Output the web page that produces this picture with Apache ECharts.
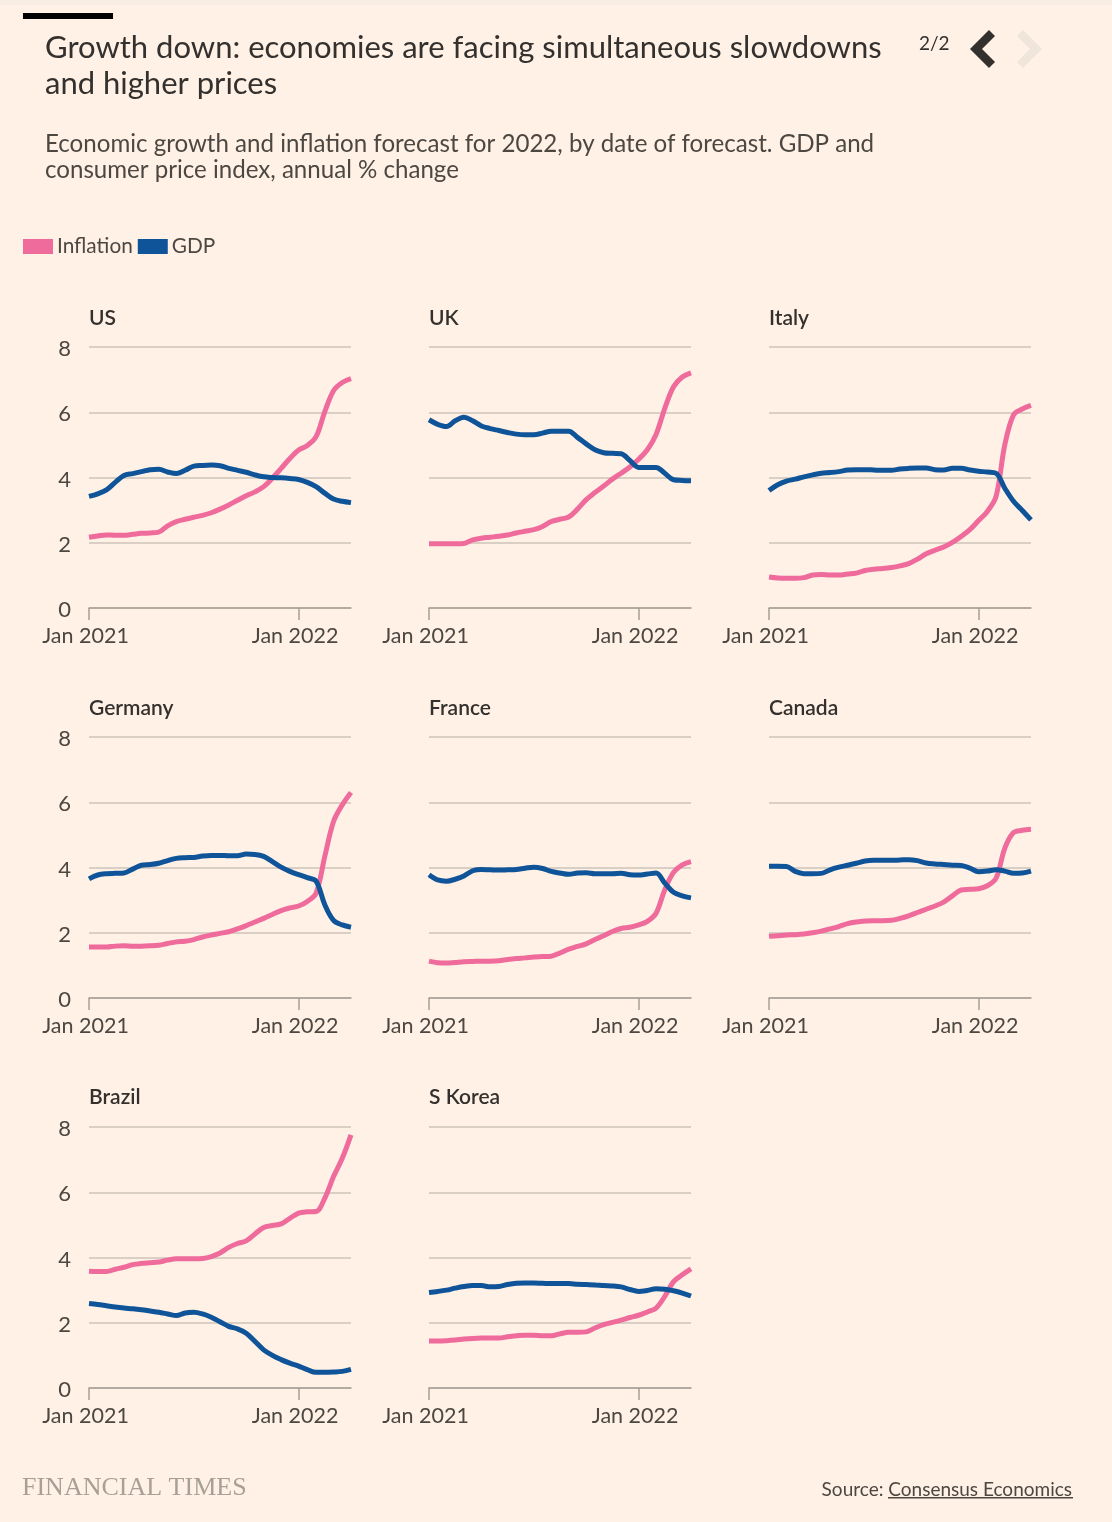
<!DOCTYPE html>
<html lang="en">

<head>
  <meta charset="UTF-8" />
  <title>Growth down</title>
  <script src="https://cdn.jsdelivr.net/npm/echarts@6/dist/echarts.min.js"></script>
  <style>
    html, body { margin: 0; padding: 0; background: #fff1e5; }
  </style>
</head>

<body>
  <div id="main" style="width:1112px;height:1522px;"></div>
  <script type="text/javascript">
    // half-month steps from Jan 2021 to Apr 2022
    const categories = [
      'Jan 2021', 'mid Jan 21', 'Feb 21', 'mid Feb 21', 'Mar 21', 'mid Mar 21', 'Apr 21', 'mid Apr 21',
      'May 21', 'mid May 21', 'Jun 21', 'mid Jun 21', 'Jul 21', 'mid Jul 21', 'Aug 21', 'mid Aug 21',
      'Sep 21', 'mid Sep 21', 'Oct 21', 'mid Oct 21', 'Nov 21', 'mid Nov 21', 'Dec 21', 'mid Dec 21',
      'Jan 2022', 'mid Jan 22', 'Feb 22', 'mid Feb 22', 'Mar 22', 'mid Mar 22', 'Apr 22'
    ]
    const xTickLabels = ['Jan 2021', 'Jan 2022']
    const yTicks = [0, 2, 4, 6, 8]
    const countries = ['US', 'UK', 'Italy', 'Germany', 'France', 'Canada', 'Brazil', 'S Korea']

    const usInflation = [2.17, 2.21, 2.24, 2.23, 2.23, 2.26, 2.29, 2.30, 2.33, 2.52, 2.65, 2.72, 2.78, 2.84, 2.92, 3.03, 3.16, 3.30, 3.44, 3.56, 3.72, 3.98, 4.28, 4.58, 4.84, 4.98, 5.25, 6.02, 6.66, 6.91, 7.03]
    const usGdp = [3.42, 3.50, 3.62, 3.85, 4.06, 4.12, 4.18, 4.24, 4.25, 4.17, 4.12, 4.22, 4.35, 4.37, 4.38, 4.36, 4.28, 4.22, 4.16, 4.08, 4.02, 4.00, 3.99, 3.97, 3.94, 3.85, 3.72, 3.52, 3.34, 3.27, 3.23]
    const ukInflation = [1.97, 1.97, 1.97, 1.97, 1.98, 2.09, 2.14, 2.17, 2.20, 2.24, 2.30, 2.35, 2.40, 2.50, 2.65, 2.72, 2.79, 3.03, 3.32, 3.54, 3.74, 3.95, 4.13, 4.32, 4.56, 4.85, 5.32, 6.12, 6.78, 7.08, 7.21]
    const ukGdp = [5.77, 5.63, 5.56, 5.74, 5.85, 5.74, 5.58, 5.50, 5.44, 5.38, 5.33, 5.31, 5.31, 5.36, 5.42, 5.42, 5.42, 5.23, 5.03, 4.85, 4.76, 4.74, 4.73, 4.52, 4.31, 4.31, 4.31, 4.13, 3.93, 3.91, 3.90]
    const italyInflation = [0.95, 0.92, 0.91, 0.91, 0.93, 1.01, 1.03, 1.01, 1.01, 1.04, 1.07, 1.15, 1.19, 1.21, 1.24, 1.29, 1.36, 1.50, 1.66, 1.77, 1.87, 2.01, 2.19, 2.40, 2.68, 2.96, 3.42, 5.00, 5.92, 6.10, 6.21]
    const italyGdp = [3.60, 3.78, 3.89, 3.95, 4.02, 4.08, 4.13, 4.15, 4.18, 4.23, 4.24, 4.24, 4.23, 4.22, 4.22, 4.26, 4.28, 4.29, 4.29, 4.24, 4.23, 4.28, 4.28, 4.23, 4.19, 4.17, 4.13, 3.67, 3.27, 2.99, 2.70]
    const germanyInflation = [1.56, 1.56, 1.56, 1.59, 1.60, 1.59, 1.59, 1.60, 1.62, 1.67, 1.72, 1.74, 1.79, 1.87, 1.93, 1.98, 2.03, 2.12, 2.22, 2.33, 2.44, 2.56, 2.68, 2.76, 2.82, 2.96, 3.21, 4.34, 5.41, 5.92, 6.30]
    const germanyGdp = [3.65, 3.77, 3.81, 3.82, 3.83, 3.95, 4.07, 4.09, 4.13, 4.21, 4.28, 4.30, 4.31, 4.35, 4.37, 4.37, 4.36, 4.36, 4.41, 4.40, 4.34, 4.18, 4.01, 3.88, 3.78, 3.69, 3.58, 2.86, 2.38, 2.24, 2.17]
    const franceInflation = [1.13, 1.08, 1.07, 1.09, 1.11, 1.12, 1.13, 1.13, 1.14, 1.18, 1.21, 1.23, 1.26, 1.27, 1.28, 1.38, 1.50, 1.58, 1.66, 1.79, 1.91, 2.04, 2.13, 2.17, 2.24, 2.35, 2.60, 3.32, 3.85, 4.08, 4.18]
    const franceGdp = [3.78, 3.62, 3.58, 3.64, 3.74, 3.90, 3.94, 3.93, 3.92, 3.93, 3.94, 3.98, 4.01, 3.97, 3.88, 3.83, 3.79, 3.83, 3.84, 3.81, 3.81, 3.81, 3.82, 3.78, 3.77, 3.80, 3.83, 3.52, 3.24, 3.13, 3.07]
    const canadaInflation = [1.89, 1.91, 1.93, 1.94, 1.96, 2.00, 2.05, 2.12, 2.19, 2.28, 2.33, 2.36, 2.37, 2.37, 2.38, 2.44, 2.52, 2.62, 2.72, 2.82, 2.94, 3.13, 3.31, 3.33, 3.35, 3.44, 3.67, 4.59, 5.07, 5.14, 5.17]
    const canadaGdp = [4.04, 4.04, 4.03, 3.88, 3.81, 3.81, 3.82, 3.93, 4.01, 4.07, 4.13, 4.20, 4.22, 4.22, 4.22, 4.23, 4.24, 4.21, 4.14, 4.11, 4.09, 4.07, 4.06, 3.98, 3.87, 3.89, 3.93, 3.89, 3.82, 3.83, 3.89]
    const brazilInflation = [3.58, 3.57, 3.57, 3.64, 3.70, 3.78, 3.82, 3.84, 3.86, 3.92, 3.96, 3.96, 3.96, 3.97, 4.03, 4.14, 4.31, 4.43, 4.51, 4.72, 4.92, 4.98, 5.03, 5.20, 5.36, 5.40, 5.41, 5.82, 6.48, 7.04, 7.76]
    const brazilGdp = [2.59, 2.56, 2.52, 2.48, 2.45, 2.43, 2.40, 2.36, 2.32, 2.27, 2.22, 2.30, 2.32, 2.27, 2.17, 2.03, 1.89, 1.81, 1.68, 1.43, 1.17, 1.00, 0.87, 0.76, 0.67, 0.56, 0.48, 0.48, 0.49, 0.51, 0.57]
    const koreaInflation = [1.44, 1.44, 1.45, 1.47, 1.50, 1.52, 1.53, 1.53, 1.53, 1.57, 1.60, 1.62, 1.62, 1.60, 1.60, 1.66, 1.71, 1.71, 1.72, 1.84, 1.94, 2.01, 2.08, 2.16, 2.23, 2.33, 2.45, 2.81, 3.26, 3.47, 3.65]
    const koreaGdp = [2.93, 2.96, 3.00, 3.06, 3.11, 3.14, 3.14, 3.10, 3.11, 3.17, 3.21, 3.22, 3.22, 3.21, 3.20, 3.20, 3.20, 3.18, 3.17, 3.16, 3.14, 3.13, 3.10, 3.02, 2.96, 2.99, 3.04, 3.03, 2.98, 2.91, 2.82]

    const inflationSeries = [usInflation, ukInflation, italyInflation, germanyInflation, franceInflation, canadaInflation, brazilInflation, koreaInflation]
    const gdpSeries = [usGdp, ukGdp, italyGdp, germanyGdp, franceGdp, canadaGdp, brazilGdp, koreaGdp]

    const PINK = '#ee6b9b'
    const BLUE = '#0f5499'
    const FONT = 'Lato'
    const gridLefts = [89, 429, 769]
    const gridTops = [347, 737, 1127]

    // title boxes carry 5px of padding, hence the offsets below
    var titles = [{
      text: 'Growth down: economies are facing simultaneous slowdowns\nand higher prices',
      left: 40, top: 25,
      textStyle: { fontFamily: FONT, fontSize: 31, fontWeight: 400, lineHeight: 36, color: '#33302e' }
    }, {
      text: 'Economic growth and inflation forecast for 2022, by date of forecast. GDP and\nconsumer price index, annual % change',
      left: 40, top: 126,
      textStyle: { fontFamily: FONT, fontSize: 24.1, fontWeight: 400, lineHeight: 26, color: '#4d4742' }
    }, {
      text: '2/2',
      left: 914, top: 29,
      textStyle: { fontFamily: FONT, fontSize: 19, fontWeight: 400, color: '#33302e' }
    }, {
      text: 'FINANCIAL TIMES',
      left: 17, top: 1470,
      textStyle: { fontFamily: 'Liberation Serif', fontSize: 26, fontWeight: 400, color: '#a89f97' }
    }, {
      text: 'Source: Consensus Economics',
      right: 35, top: 1475,
      textStyle: { fontFamily: FONT, fontSize: 19, fontWeight: 400, color: '#4d4742' }
    }]

    var grids = [], xAxes = [], yAxes = [], series = []

    countries.forEach(function (name, i) {
      var col = i % 3
      var row = Math.floor(i / 3)
      grids.push({ left: gridLefts[col], top: gridTops[row], width: 262, height: 261 })
      titles.push({
        text: name,
        left: gridLefts[col] - 5, top: gridTops[row] - (row === 2 ? 45 : 44),
        textStyle: { fontFamily: FONT, fontSize: 21, fontWeight: 600, color: '#33302e' }
      })
      xAxes.push({
        type: 'category', gridIndex: i, data: categories, boundaryGap: false,
        axisLine: { lineStyle: { color: '#a79e95', width: 1.5 } },
        axisTick: {
          length: 12, lineStyle: { color: '#a79e95', width: 1.5 },
          interval: function (idx, value) { return xTickLabels.indexOf(value) >= 0 }
        },
        axisLabel: {
          margin: 17, fontFamily: FONT, fontSize: 21.5, color: '#4d4742', padding: [0, 7, 0, 0],
          interval: function (idx, value) { return xTickLabels.indexOf(value) >= 0 }
        }
      })
      yAxes.push({
        type: 'value', gridIndex: i, min: yTicks[0], max: yTicks[yTicks.length - 1], interval: 2,
        axisLine: { show: false }, axisTick: { show: false },
        splitLine: { lineStyle: { color: '#cec3b8', width: 1.5 } },
        // hung from the tick so the digits sit a little below the gridline
        axisLabel: {
          show: col === 0, margin: 18, fontFamily: FONT, fontSize: 22, color: '#4d4742',
          verticalAlign: 'top', lineHeight: 22, padding: [-9, 0, 0, 0]
        }
      })
      series.push({
        name: 'Inflation', type: 'line', xAxisIndex: i, yAxisIndex: i, data: inflationSeries[i],
        smooth: 0.35, symbol: 'none', silent: true,
        itemStyle: { color: PINK }, lineStyle: { color: PINK, width: 5 }
      }, {
        name: 'GDP', type: 'line', xAxisIndex: i, yAxisIndex: i, data: gdpSeries[i],
        smooth: 0.35, symbol: 'none', silent: true,
        itemStyle: { color: BLUE }, lineStyle: { color: BLUE, width: 5 }
      })
    })

    var myChart = echarts.init(document.getElementById('main'), null, { renderer: 'canvas' })

    var option = {
      animation: false,
      backgroundColor: '#fff1e5',
      title: titles,
      legend: {
        left: 18, top: 231, icon: 'rect', itemWidth: 30, itemHeight: 15, itemGap: 5,
        data: ['Inflation', 'GDP'],
        textStyle: { fontFamily: FONT, fontSize: 20.8, color: '#4d4742', padding: [0, 0, 0, -1] }
      },
      grid: grids,
      xAxis: xAxes,
      yAxis: yAxes,
      series: series,
      graphic: [
        // faint band at the top edge, black tab, page arrows, source underline
        { type: 'rect', shape: { x: 0, y: 0, width: 1112, height: 5 }, style: { fill: '#f8ede2' } },
        { type: 'rect', shape: { x: 23, y: 13, width: 90, height: 6 }, style: { fill: '#000000' } },
        { type: 'polyline', shape: { points: [[992, 33], [976, 49], [992, 65]] }, style: { stroke: '#33302e', lineWidth: 8.5, fill: null } },
        { type: 'polyline', shape: { points: [[1020, 33], [1036, 49], [1020, 65]] }, style: { stroke: '#f0e5da', lineWidth: 8.5, fill: null } },
        { type: 'rect', shape: { x: 888, y: 1497, width: 185, height: 1.5 }, style: { fill: '#4d4742' } }
      ]
    }

    myChart.setOption(option)
  </script>
</body>

</html>
